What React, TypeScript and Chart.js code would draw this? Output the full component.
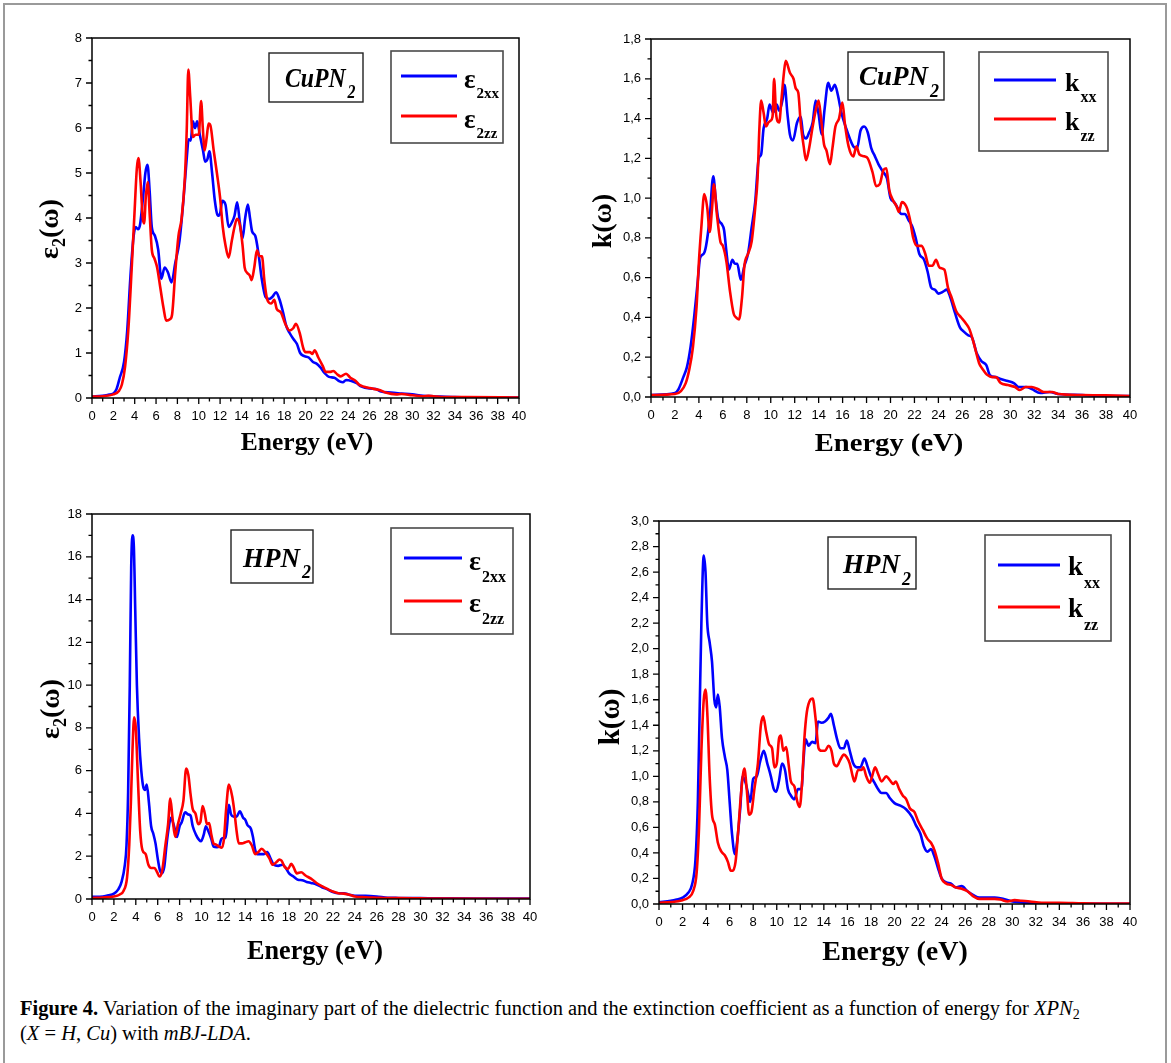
import React, { useEffect, useRef } from 'react';
import { Chart, registerables } from 'chart.js';

Chart.register(...registerables);

type Pt = [number, number];

// ---------------- axes ----------------
const energyRange: [number, number] = [0, 40];
const energyMajorStep = 2;
const energyMinorStep = 1;

const eps2CuAxis = { max: 8, major: 1, minor: 0.5, decimals: 0 };
const kCuAxis = { max: 1.8, major: 0.2, minor: 0.1, decimals: 1 };
const eps2HAxis = { max: 18, major: 2, minor: 1, decimals: 0 };
const kHAxis = { max: 3.0, major: 0.2, minor: 0.1, decimals: 1 };

// ---------------- data: [energy (eV), value] ----------------
const cuEps2xx: Pt[] = [
  [0, 0.03], [1, 0.05], [1.5, 0.07], [2, 0.1], [2.3, 0.2], [2.6, 0.45], [3.0, 0.8], [3.3, 1.5], [3.6, 2.7],
  [3.9, 3.6], [4.1, 3.8], [4.3, 3.75], [4.5, 3.85], [4.8, 4.5], [5.0, 5.0], [5.2, 5.18], [5.4, 4.6], [5.6, 3.8],
  [5.9, 3.6], [6.2, 3.3], [6.5, 2.65], [6.8, 2.9], [7.1, 2.8], [7.45, 2.57], [7.8, 3.0], [8.2, 3.5], [8.6, 4.5],
  [8.9, 5.4], [9.05, 5.75], [9.25, 5.72], [9.45, 6.15], [9.65, 6.0], [9.85, 6.15], [10.1, 5.85], [10.4, 5.5],
  [10.6, 5.25], [10.8, 5.3], [11.0, 5.48], [11.25, 5.0], [11.5, 4.4], [11.8, 4.05], [12.0, 4.1], [12.2, 4.38],
  [12.5, 4.3], [12.8, 3.8], [13.1, 3.9], [13.35, 4.05], [13.6, 4.35], [13.85, 3.9], [14.1, 3.55], [14.35, 4.0],
  [14.6, 4.3], [14.8, 4.0], [15.0, 3.7], [15.3, 3.6], [15.6, 3.2], [15.9, 2.65], [16.25, 2.25], [16.6, 2.2],
  [16.9, 2.25], [17.25, 2.35], [17.55, 2.2], [17.85, 1.95], [18.2, 1.6], [18.5, 1.45], [18.9, 1.3], [19.2, 1.2],
  [19.5, 1.0], [19.9, 0.93], [20.3, 0.9], [20.7, 0.8], [21.0, 0.77], [21.4, 0.68], [21.8, 0.55], [22.2, 0.47],
  [22.7, 0.45], [23.2, 0.37], [23.5, 0.35], [23.8, 0.4], [24.3, 0.38], [24.8, 0.33], [25.2, 0.26], [26, 0.21],
  [26.6, 0.2], [27, 0.15], [28, 0.12], [29, 0.1], [30, 0.08], [31, 0.05], [32, 0.04], [34, 0.02], [36, 0.01], [40, 0.01],
];
const cuEps2zz: Pt[] = [
  [0, 0.03], [1, 0.04], [2, 0.08], [2.5, 0.15], [2.8, 0.3], [3.1, 0.7], [3.4, 1.5], [3.7, 2.8], [4.0, 4.2],
  [4.2, 5.1], [4.35, 5.33], [4.55, 4.8], [4.75, 4.0], [4.88, 3.88], [5.05, 4.5], [5.22, 4.8], [5.4, 4.1],
  [5.6, 3.3], [5.85, 3.1], [6.1, 2.9], [6.4, 2.45], [6.7, 2.0], [6.95, 1.72], [7.3, 1.75], [7.5, 1.85],
  [7.8, 2.8], [8.1, 3.6], [8.4, 4.0], [8.7, 4.9], [8.88, 6.0], [9.02, 7.3], [9.2, 6.7], [9.45, 5.8], [9.7, 5.85],
  [10.0, 5.85], [10.22, 6.6], [10.38, 6.0], [10.55, 5.5], [10.75, 5.8], [10.92, 6.1], [11.1, 6.05], [11.4, 5.5],
  [11.7, 5.0], [12.0, 4.45], [12.25, 3.8], [12.5, 3.4], [12.8, 3.12], [13.1, 3.5], [13.35, 3.8], [13.58, 3.98],
  [13.85, 3.85], [14.1, 3.4], [14.3, 2.9], [14.55, 2.78], [14.78, 2.72], [14.95, 2.62], [15.2, 2.9], [15.45, 3.28],
  [15.7, 3.15], [15.92, 3.15], [16.15, 2.6], [16.4, 2.2], [16.8, 2.1], [17.08, 2.18], [17.3, 1.98], [17.7, 1.9],
  [18.1, 1.65], [18.5, 1.5], [18.85, 1.55], [19.1, 1.65], [19.45, 1.45], [19.8, 1.1], [20.0, 1.02], [20.4, 1.02],
  [20.65, 0.98], [20.85, 1.06], [21.2, 0.9], [21.6, 0.72], [21.9, 0.58], [22.3, 0.58], [22.6, 0.6], [23.0, 0.52],
  [23.3, 0.48], [23.8, 0.54], [24.2, 0.45], [24.7, 0.38], [25.0, 0.3], [25.5, 0.25], [26.0, 0.22], [27, 0.17],
  [27.5, 0.12], [28.5, 0.08], [29, 0.09], [30, 0.06], [31, 0.04], [31.5, 0.05], [32, 0.04], [33, 0.02], [35, 0.02], [40, 0.01],
];
const cuKxx: Pt[] = [
  [0, 0.01], [2, 0.02], [2.3, 0.04], [2.7, 0.1], [3.0, 0.15], [3.3, 0.25], [3.6, 0.4], [3.9, 0.58], [4.1, 0.7],
  [4.4, 0.72], [4.6, 0.76], [4.9, 0.9], [5.2, 1.11], [5.4, 1.0], [5.6, 0.9], [5.9, 0.87], [6.1, 0.84], [6.3, 0.73],
  [6.5, 0.64], [6.8, 0.69], [7.0, 0.67], [7.2, 0.67], [7.5, 0.59], [7.8, 0.66], [8.1, 0.72], [8.4, 0.85], [8.7, 0.98],
  [9.0, 1.2], [9.2, 1.22], [9.4, 1.35], [9.7, 1.4], [9.9, 1.47], [10.2, 1.43], [10.5, 1.47], [10.7, 1.44], [11.0, 1.5],
  [11.15, 1.57], [11.4, 1.42], [11.6, 1.32], [11.85, 1.29], [12.2, 1.38], [12.5, 1.41], [12.7, 1.32], [12.95, 1.3],
  [13.2, 1.33], [13.5, 1.38], [13.75, 1.49], [14.0, 1.42], [14.25, 1.32], [14.5, 1.45], [14.8, 1.58], [15.05, 1.54],
  [15.35, 1.57], [15.6, 1.52], [15.9, 1.43], [16.3, 1.35], [16.6, 1.3], [16.9, 1.26], [17.2, 1.25], [17.5, 1.34],
  [17.8, 1.36], [18.1, 1.33], [18.4, 1.25], [18.7, 1.21], [19.0, 1.17], [19.4, 1.13], [19.7, 1.1], [20.0, 1.0],
  [20.3, 0.98], [20.6, 0.95], [20.9, 0.92], [21.2, 0.92], [21.5, 0.89], [21.8, 0.86], [22.1, 0.8], [22.4, 0.72],
  [22.8, 0.69], [23.1, 0.63], [23.4, 0.55], [23.7, 0.54], [24.0, 0.52], [24.4, 0.53], [24.7, 0.54], [25.0, 0.5],
  [25.4, 0.42], [25.8, 0.35], [26.1, 0.33], [26.5, 0.31], [26.8, 0.3], [27.2, 0.22], [27.6, 0.18], [28, 0.16],
  [28.3, 0.11], [28.8, 0.1], [29.2, 0.09], [29.8, 0.08], [30.3, 0.07], [30.7, 0.05], [31.3, 0.05], [31.8, 0.04],
  [32.5, 0.02], [33.3, 0.025], [34, 0.015], [36, 0.01], [38, 0.005], [40, 0.005],
];
const cuKzz: Pt[] = [
  [0, 0.01], [2, 0.015], [2.5, 0.03], [2.9, 0.07], [3.2, 0.14], [3.5, 0.25], [3.8, 0.45], [4.0, 0.68], [4.2, 0.85],
  [4.45, 1.02], [4.7, 0.95], [4.9, 0.83], [5.1, 0.95], [5.25, 1.07], [5.5, 0.92], [5.8, 0.78], [6.0, 0.76],
  [6.3, 0.68], [6.6, 0.53], [6.9, 0.42], [7.1, 0.4], [7.35, 0.39], [7.6, 0.5], [7.8, 0.66], [8.1, 0.72], [8.4, 0.78],
  [8.7, 0.95], [8.9, 1.1], [9.05, 1.35], [9.2, 1.49], [9.4, 1.43], [9.6, 1.36], [9.8, 1.38], [10.0, 1.39],
  [10.15, 1.41], [10.28, 1.6], [10.45, 1.42], [10.7, 1.38], [10.9, 1.5], [11.1, 1.63], [11.25, 1.69], [11.6, 1.63],
  [11.9, 1.6], [12.1, 1.55], [12.3, 1.53], [12.5, 1.38], [12.75, 1.26], [12.95, 1.19], [13.2, 1.25], [13.5, 1.36],
  [13.75, 1.44], [14.0, 1.49], [14.2, 1.4], [14.45, 1.27], [14.65, 1.24], [14.95, 1.17], [15.15, 1.25], [15.4, 1.36],
  [15.7, 1.4], [15.98, 1.48], [16.2, 1.37], [16.5, 1.26], [16.9, 1.21], [17.15, 1.26], [17.4, 1.22], [17.8, 1.21],
  [18.1, 1.2], [18.5, 1.13], [18.8, 1.06], [19.1, 1.07], [19.4, 1.14], [19.65, 1.15], [19.9, 1.04], [20.2, 0.99],
  [20.5, 0.96], [20.7, 0.93], [20.95, 0.98], [21.3, 0.96], [21.6, 0.9], [21.9, 0.8], [22.2, 0.76], [22.6, 0.76],
  [22.9, 0.72], [23.2, 0.66], [23.5, 0.66], [23.8, 0.69], [24.1, 0.65], [24.5, 0.64], [24.8, 0.55], [25.1, 0.5],
  [25.5, 0.43], [25.9, 0.4], [26.3, 0.37], [26.6, 0.34], [27.0, 0.26], [27.4, 0.17], [27.7, 0.14], [28.1, 0.11],
  [28.5, 0.1], [28.8, 0.1], [29.2, 0.07], [29.8, 0.06], [30.4, 0.05], [30.8, 0.035], [31.3, 0.05], [31.8, 0.05],
  [32.3, 0.04], [32.8, 0.025], [33.5, 0.025], [34, 0.015], [36, 0.01], [38, 0.008], [40, 0.005],
];
const hEps2xx: Pt[] = [
  [0, 0.1], [1, 0.12], [1.5, 0.17], [2.0, 0.25], [2.4, 0.45], [2.7, 0.8], [3.0, 1.6], [3.15, 2.5], [3.3, 5.0],
  [3.45, 10], [3.58, 15.5], [3.7, 17.0], [3.82, 16.5], [3.95, 13.5], [4.1, 10], [4.3, 7.5], [4.5, 6.0], [4.7, 5.2],
  [4.85, 5.1], [5.0, 5.35], [5.2, 4.5], [5.4, 3.4], [5.6, 3.05], [5.8, 2.6], [6.0, 1.9], [6.2, 1.35], [6.38, 1.2],
  [6.6, 1.5], [6.8, 2.5], [7.0, 3.3], [7.2, 3.8], [7.5, 3.4], [7.75, 2.9], [8.0, 3.4], [8.2, 3.6], [8.5, 4.05],
  [8.8, 3.95], [9.0, 3.9], [9.2, 3.4], [9.5, 3.0], [9.8, 2.75], [9.95, 2.7], [10.2, 3.0], [10.4, 3.4], [10.6, 3.2],
  [10.9, 2.8], [11.1, 2.45], [11.4, 2.42], [11.6, 2.45], [11.8, 2.8], [12.0, 2.85], [12.2, 2.85], [12.35, 3.5],
  [12.5, 4.4], [12.7, 3.95], [12.95, 3.85], [13.2, 3.85], [13.5, 4.1], [13.8, 3.8], [14.0, 3.7], [14.2, 3.45],
  [14.5, 3.3], [14.7, 2.9], [14.9, 2.3], [15.1, 2.1], [15.4, 2.1], [15.7, 2.1], [16.0, 2.2], [16.3, 1.9], [16.6, 1.6],
  [17.0, 1.55], [17.4, 1.6], [17.7, 1.45], [18.0, 1.2], [18.4, 1.05], [18.8, 0.9], [19.2, 0.88], [19.6, 0.8],
  [20.0, 0.75], [20.5, 0.68], [21, 0.55], [21.5, 0.45], [22, 0.33], [22.5, 0.27], [23, 0.27], [23.5, 0.2], [24, 0.15],
  [25, 0.15], [26, 0.12], [27, 0.06], [28, 0.05], [30, 0.04], [32, 0.03], [35, 0.02], [40, 0.02],
];
const hEps2zz: Pt[] = [
  [0, 0.05], [1, 0.07], [2, 0.12], [2.5, 0.2], [2.9, 0.4], [3.2, 1.0], [3.4, 2.5], [3.55, 4.5], [3.7, 7.0],
  [3.85, 8.5], [4.0, 8.0], [4.2, 5.5], [4.4, 3.2], [4.6, 2.3], [4.9, 2.1], [5.15, 1.6], [5.4, 1.45], [5.7, 1.45],
  [5.95, 1.25], [6.15, 1.05], [6.4, 1.3], [6.7, 2.5], [6.95, 3.5], [7.15, 4.7], [7.35, 3.8], [7.6, 2.9], [7.85, 3.5],
  [8.1, 4.0], [8.35, 4.6], [8.6, 6.1], [8.8, 5.8], [9.0, 4.9], [9.2, 4.2], [9.45, 4.0], [9.7, 3.5], [9.9, 3.6],
  [10.1, 4.35], [10.3, 4.0], [10.5, 3.5], [10.7, 3.55], [10.9, 3.0], [11.1, 2.6], [11.3, 2.55], [11.6, 2.45],
  [11.85, 2.4], [12.05, 2.8], [12.25, 4.2], [12.5, 5.35], [12.8, 4.8], [13.0, 4.1], [13.2, 3.2], [13.4, 2.6],
  [13.7, 2.6], [14.0, 2.65], [14.3, 2.7], [14.6, 2.5], [14.9, 2.1], [15.2, 2.2], [15.5, 2.35], [15.8, 2.2],
  [16.2, 1.9], [16.5, 1.6], [16.9, 1.75], [17.1, 1.85], [17.3, 1.8], [17.6, 1.5], [17.9, 1.4], [18.2, 1.65],
  [18.4, 1.5], [18.7, 1.2], [19.1, 1.25], [19.5, 1.1], [20.0, 0.95], [20.5, 0.75], [21, 0.6], [21.5, 0.47],
  [22, 0.35], [22.5, 0.27], [23, 0.25], [23.5, 0.2], [24, 0.12], [25, 0.08], [26, 0.06], [27, 0.04], [28, 0.04],
  [30, 0.03], [32, 0.02], [40, 0.01],
];
const hKxx: Pt[] = [
  [0, 0.015], [1, 0.025], [1.5, 0.035], [2, 0.05], [2.5, 0.09], [2.8, 0.15], [3.1, 0.35], [3.3, 0.8], [3.45, 1.5],
  [3.6, 2.2], [3.8, 2.73], [3.95, 2.6], [4.1, 2.2], [4.3, 2.05], [4.5, 1.9], [4.7, 1.6], [4.85, 1.54], [5.0, 1.64],
  [5.15, 1.55], [5.35, 1.3], [5.6, 1.15], [5.8, 1.05], [6.0, 0.8], [6.2, 0.55], [6.45, 0.39], [6.65, 0.5], [6.9, 0.75],
  [7.1, 1.0], [7.35, 0.95], [7.6, 0.85], [7.75, 0.8], [8.0, 0.98], [8.3, 1.0], [8.6, 1.12], [8.9, 1.2], [9.2, 1.1],
  [9.5, 1.0], [9.75, 0.9], [9.95, 0.88], [10.2, 0.97], [10.45, 1.1], [10.7, 1.05], [10.95, 0.9], [11.2, 0.85],
  [11.5, 0.82], [11.8, 0.9], [12.1, 0.9], [12.25, 1.1], [12.45, 1.29], [12.7, 1.24], [13.0, 1.27], [13.3, 1.26],
  [13.5, 1.43], [13.8, 1.42], [14.1, 1.43], [14.4, 1.46], [14.6, 1.49], [14.85, 1.4], [15.1, 1.3], [15.4, 1.22],
  [15.7, 1.22], [15.95, 1.28], [16.2, 1.2], [16.5, 1.1], [16.8, 1.07], [17.1, 1.07], [17.45, 1.14], [17.7, 1.08],
  [18.0, 1.0], [18.3, 0.95], [18.6, 0.9], [18.9, 0.87], [19.3, 0.87], [19.6, 0.83], [20.0, 0.79], [20.5, 0.77],
  [21.0, 0.74], [21.5, 0.68], [21.8, 0.62], [22.2, 0.55], [22.5, 0.45], [22.8, 0.41], [23.1, 0.43], [23.4, 0.37],
  [23.7, 0.28], [24.0, 0.2], [24.4, 0.17], [24.8, 0.16], [25.2, 0.13], [25.7, 0.14], [26.2, 0.1], [26.7, 0.07],
  [27.2, 0.05], [28, 0.05], [28.5, 0.05], [29, 0.045], [30, 0.02], [31, 0.01], [32, 0.005], [40, 0.002],
];
const hKzz: Pt[] = [
  [0, 0.01], [1, 0.015], [2, 0.03], [2.5, 0.05], [2.9, 0.1], [3.2, 0.25], [3.4, 0.6], [3.6, 1.2], [3.8, 1.6],
  [3.95, 1.68], [4.1, 1.5], [4.3, 1.0], [4.5, 0.7], [4.75, 0.62], [5.0, 0.48], [5.3, 0.41], [5.6, 0.38], [5.85, 0.33],
  [6.1, 0.26], [6.25, 0.26], [6.5, 0.33], [6.75, 0.6], [7.0, 0.9], [7.25, 1.06], [7.45, 0.9], [7.65, 0.7],
  [7.85, 0.72], [8.1, 0.9], [8.4, 1.1], [8.65, 1.4], [8.85, 1.47], [9.1, 1.35], [9.35, 1.25], [9.6, 1.22],
  [9.8, 1.07], [10.0, 1.1], [10.2, 1.3], [10.35, 1.32], [10.55, 1.2], [10.8, 1.23], [11.0, 1.1], [11.2, 0.96],
  [11.5, 0.92], [11.75, 0.8], [11.95, 0.76], [12.15, 0.95], [12.35, 1.3], [12.55, 1.5], [12.85, 1.6], [13.05, 1.61],
  [13.3, 1.45], [13.55, 1.22], [13.8, 1.2], [14.1, 1.2], [14.4, 1.24], [14.65, 1.2], [14.85, 1.1], [15.1, 1.08],
  [15.4, 1.13], [15.7, 1.17], [15.95, 1.15], [16.2, 1.1], [16.45, 1.0], [16.6, 0.96], [16.9, 1.05], [17.2, 1.05],
  [17.35, 1.07], [17.6, 1.0], [17.9, 0.95], [18.1, 1.0], [18.35, 1.07], [18.6, 1.02], [18.9, 0.96], [19.3, 1.0],
  [19.6, 0.97], [19.9, 0.94], [20.1, 0.96], [20.4, 0.9], [20.7, 0.85], [21.0, 0.82], [21.3, 0.75], [21.7, 0.72],
  [22.0, 0.65], [22.4, 0.58], [22.8, 0.51], [23.1, 0.48], [23.4, 0.42], [23.7, 0.32], [24.0, 0.2], [24.4, 0.16],
  [24.8, 0.15], [25.2, 0.13], [25.7, 0.12], [26.2, 0.1], [26.7, 0.06], [27.2, 0.04], [28, 0.04], [28.5, 0.04],
  [29, 0.035], [29.6, 0.02], [30.2, 0.03], [30.8, 0.025], [31.5, 0.02], [32.5, 0.01], [34, 0.01], [36, 0.005], [40, 0.003],
];

// ---------------- styling / layout ----------------
const SERIF = '"Liberation Serif", "Times New Roman", serif';
const SANS = '"Liberation Sans", Arial, sans-serif';
const BLUE = '#0000ff';
const RED = '#ff0000';
const Y_AXIS_W = 45;
const X_AXIS_H = 30;

type Part = { t: string; font: string; dy?: number; dx?: number };

function drawRich(ctx: CanvasRenderingContext2D, parts: Part[], x: number, y: number, align: 'left' | 'center', sx = 1) {
  ctx.save();
  ctx.translate(x, y);
  ctx.scale(sx, 1);
  ctx.textAlign = 'left';
  ctx.textBaseline = 'alphabetic';
  let total = 0;
  for (const p of parts) {
    ctx.font = p.font;
    total += ctx.measureText(p.t).width + (p.dx || 0);
  }
  let cx = align === 'center' ? -total / 2 : 0;
  for (const p of parts) {
    ctx.font = p.font;
    cx += p.dx || 0;
    ctx.fillText(p.t, cx, p.dy || 0);
    cx += ctx.measureText(p.t).width;
  }
  ctx.restore();
}

interface PanelCfg {
  key: string;
  canvas: { x: number; y: number; w: number; h: number };
  plot: { l: number; t: number; r: number; b: number };
  axis: { max: number; major: number; minor: number; decimals: number };
  blue: Pt[];
  red: Pt[];
  quantity: 'eps' | 'k';
  compound: string;
  xTitle: { cx: number; base: number; size: number; sx: number };
  yTitle: { base: number; cy: number; size: number };
  box: { l: number; t: number; r: number; b: number; tx: number; base: number; subDy: number; size: number; sx: number };
  legend: { l: number; t: number; r: number; b: number; x1: number; x2: number; y1: number; y2: number; tx: number; base1: number; base2: number; size: number; subSize: number; subDy: number };
}

const panels: PanelCfg[] = [
  {
    key: 'cuEps', canvas: { x: 0, y: 0, w: 585, h: 480 }, plot: { l: 92, t: 38, r: 519, b: 398 },
    axis: eps2CuAxis, blue: cuEps2xx, red: cuEps2zz, quantity: 'eps', compound: 'CuPN',
    xTitle: { cx: 307, base: 450, size: 26, sx: 0.98 }, yTitle: { base: 58, cy: 229, size: 28 },
    box: { l: 269, t: 53, r: 363, b: 102, tx: 285, base: 87, subDy: 11, size: 27, sx: 0.88 },
    legend: { l: 391, t: 51, r: 503, b: 143, x1: 401, x2: 457, y1: 76, y2: 116, tx: 464, base1: 88, base2: 128, size: 27, subSize: 15, subDy: 9.5 },
  },
  {
    key: 'cuK', canvas: { x: 585, y: 0, w: 586, h: 480 }, plot: { l: 651, t: 39, r: 1130, b: 397 },
    axis: kCuAxis, blue: cuKxx, red: cuKzz, quantity: 'k', compound: 'CuPN',
    xTitle: { cx: 889, base: 451, size: 26, sx: 1.1 }, yTitle: { base: 611, cy: 221, size: 28 },
    box: { l: 848, t: 52, r: 944, b: 100, tx: 859, base: 85, subDy: 12, size: 27, sx: 1 },
    legend: { l: 979, t: 52, r: 1108, b: 151, x1: 994, x2: 1056, y1: 80, y2: 119, tx: 1065, base1: 91, base2: 130, size: 26, subSize: 16, subDy: 10.5 },
  },
  {
    key: 'hEps', canvas: { x: 0, y: 480, w: 585, h: 500 }, plot: { l: 92, t: 514, r: 530, b: 899 },
    axis: eps2HAxis, blue: hEps2xx, red: hEps2zz, quantity: 'eps', compound: 'HPN',
    xTitle: { cx: 315, base: 959, size: 27, sx: 0.97 }, yTitle: { base: 59, cy: 709, size: 28 },
    box: { l: 231, t: 530, r: 313, b: 583, tx: 243, base: 567, subDy: 11, size: 27, sx: 1 },
    legend: { l: 391, t: 528, r: 513, b: 634, x1: 404, x2: 462, y1: 558, y2: 601, tx: 469, base1: 570, base2: 612, size: 28, subSize: 16, subDy: 11.5 },
  },
  {
    key: 'hK', canvas: { x: 585, y: 480, w: 586, h: 500 }, plot: { l: 659, t: 521, r: 1130, b: 904 },
    axis: kHAxis, blue: hKxx, red: hKzz, quantity: 'k', compound: 'HPN',
    xTitle: { cx: 895, base: 960, size: 28, sx: 1.0 }, yTitle: { base: 619, cy: 717, size: 29 },
    box: { l: 828, t: 537, r: 916, b: 589, tx: 843, base: 573, subDy: 12, size: 27, sx: 1 },
    legend: { l: 985, t: 535, r: 1111, b: 641, x1: 998, x2: 1060, y1: 565, y2: 607, tx: 1068, base1: 575, base2: 617, size: 27, subSize: 16, subDy: 13 },
  },
];

function makeDecor(cfg: PanelCfg) {
  return {
    id: 'decor_' + cfg.key,
    afterDraw(chart: any) {
      const ctx: CanvasRenderingContext2D = chart.ctx;
      const a = chart.chartArea;
      const xs = chart.scales.x;
      const ys = chart.scales.y;
      const ox = cfg.canvas.x;
      const oy = cfg.canvas.y;
      ctx.save();
      // plot frame
      ctx.strokeStyle = '#000';
      ctx.lineWidth = 1.5;
      ctx.strokeRect(a.left, a.top, a.right - a.left, a.bottom - a.top);
      // ticks
      ctx.beginPath();
      const nx = Math.round((energyRange[1] - energyRange[0]) / energyMinorStep);
      const xr = Math.round(energyMajorStep / energyMinorStep);
      for (let i = 0; i <= nx; i++) {
        const px = xs.getPixelForValue(energyRange[0] + i * energyMinorStep);
        ctx.moveTo(px, a.bottom);
        ctx.lineTo(px, a.bottom + (i % xr === 0 ? 6 : 3.5));
      }
      const ny = Math.round(cfg.axis.max / cfg.axis.minor);
      const yr = Math.round(cfg.axis.major / cfg.axis.minor);
      for (let i = 0; i <= ny; i++) {
        const py = ys.getPixelForValue(i * cfg.axis.minor);
        ctx.moveTo(a.left, py);
        ctx.lineTo(a.left - (i % yr === 0 ? 6 : 3.5), py);
      }
      ctx.lineWidth = 1.3;
      ctx.stroke();

      ctx.fillStyle = '#000';
      // x title
      drawRich(ctx, [{ t: 'Energy (eV)', font: `bold ${cfg.xTitle.size}px ${SERIF}` }], cfg.xTitle.cx - ox, cfg.xTitle.base - oy, 'center', cfg.xTitle.sx);
      // y title (rotated)
      ctx.save();
      ctx.translate(cfg.yTitle.base - ox, cfg.yTitle.cy - oy);
      ctx.rotate(-Math.PI / 2);
      const ys1 = cfg.yTitle.size;
      const yParts: Part[] = cfg.quantity === 'eps'
        ? [
            { t: 'ε', font: `bold ${ys1}px ${SERIF}` },
            { t: '2', font: `bold ${Math.round(ys1 * 0.64)}px ${SERIF}`, dy: 7 },
            { t: '(ω)', font: `bold ${ys1}px ${SERIF}` },
          ]
        : [{ t: 'k(ω)', font: `bold ${ys1}px ${SERIF}` }];
      drawRich(ctx, yParts, 0, 0, 'center');
      ctx.restore();

      // compound label box
      const bx = cfg.box;
      ctx.strokeStyle = '#222';
      ctx.lineWidth = 1.4;
      ctx.strokeRect(bx.l - ox, bx.t - oy, bx.r - bx.l, bx.b - bx.t);
      drawRich(ctx, [
        { t: cfg.compound, font: `italic bold ${bx.size}px ${SERIF}` },
        { t: '2', font: `italic bold ${Math.round(bx.size * 0.66)}px ${SERIF}`, dy: bx.subDy, dx: 2 },
      ], bx.tx - ox, bx.base - oy, 'left', bx.sx);

      // legend box
      const lg = cfg.legend;
      ctx.strokeStyle = '#4a4a4a';
      ctx.lineWidth = 1.6;
      ctx.strokeRect(lg.l - ox, lg.t - oy, lg.r - lg.l, lg.b - lg.t);
      ctx.lineWidth = 3;
      ctx.strokeStyle = BLUE;
      ctx.beginPath();
      ctx.moveTo(lg.x1 - ox, lg.y1 - oy);
      ctx.lineTo(lg.x2 - ox, lg.y1 - oy);
      ctx.stroke();
      ctx.strokeStyle = RED;
      ctx.beginPath();
      ctx.moveTo(lg.x1 - ox, lg.y2 - oy);
      ctx.lineTo(lg.x2 - ox, lg.y2 - oy);
      ctx.stroke();
      const sym = cfg.quantity === 'eps' ? 'ε' : 'k';
      const pre = cfg.quantity === 'eps' ? '2' : '';
      const entries = [
        { sub: pre + 'xx', base: lg.base1 },
        { sub: pre + 'zz', base: lg.base2 },
      ];
      for (const e of entries) {
        drawRich(ctx, [
          { t: sym, font: `bold ${lg.size}px ${SERIF}` },
          { t: e.sub, font: `bold ${lg.subSize}px ${SERIF}`, dy: lg.subDy, dx: 1 },
        ], lg.tx - ox, e.base - oy, 'left');
      }
      ctx.restore();
    },
  };
}

function fmtTick(v: number, decimals: number) {
  return decimals === 0 ? String(Math.round(v)) : v.toFixed(decimals).replace('.', ',');
}

function ChartPanel({ cfg }: { cfg: PanelCfg }) {
  const ref = useRef<HTMLCanvasElement | null>(null);
  useEffect(() => {
    const canvas = ref.current;
    if (!canvas) return;
    const padding = {
      left: cfg.plot.l - cfg.canvas.x - Y_AXIS_W,
      top: cfg.plot.t - cfg.canvas.y,
      right: cfg.canvas.x + cfg.canvas.w - cfg.plot.r,
      bottom: cfg.canvas.y + cfg.canvas.h - cfg.plot.b - X_AXIS_H,
    };
    const tickFont = { family: SANS, size: 13 };
    const chart = new Chart(canvas, {
      type: 'line',
      data: {
        datasets: [
          {
            label: 'zz',
            data: cfg.red.map(([x, y]) => ({ x, y })),
            borderColor: RED,
            borderWidth: 2.6,
            pointRadius: 0,
            fill: false,
            cubicInterpolationMode: 'monotone',
            order: 1,
          },
          {
            label: 'xx',
            data: cfg.blue.map(([x, y]) => ({ x, y })),
            borderColor: BLUE,
            borderWidth: 2.6,
            pointRadius: 0,
            fill: false,
            cubicInterpolationMode: 'monotone',
            order: 2,
          },
        ],
      },
      options: {
        animation: false,
        responsive: false,
        devicePixelRatio: 1,
        events: [],
        layout: { padding },
        plugins: { legend: { display: false }, tooltip: { enabled: false } },
        scales: {
          x: {
            type: 'linear',
            min: energyRange[0],
            max: energyRange[1],
            afterFit: (s: any) => { s.height = X_AXIS_H; },
            grid: { display: false, drawTicks: false },
            border: { display: false },
            ticks: {
              stepSize: energyMajorStep,
              autoSkip: false,
              maxRotation: 0,
              minRotation: 0,
              padding: 11,
              color: '#000',
              font: tickFont,
              callback: (v: any) => String(Math.round(Number(v))),
            },
          },
          y: {
            type: 'linear',
            min: 0,
            max: cfg.axis.max,
            afterFit: (s: any) => { s.width = Y_AXIS_W; },
            grid: { display: false, drawTicks: false },
            border: { display: false },
            ticks: {
              stepSize: cfg.axis.major,
              autoSkip: false,
              padding: 10,
              color: '#000',
              font: tickFont,
              callback: (v: any) => fmtTick(Number(v), cfg.axis.decimals),
            },
          },
        },
      } as any,
      plugins: [makeDecor(cfg)],
    });
    return () => chart.destroy();
  }, [cfg]);
  return (
    <canvas
      ref={ref}
      width={cfg.canvas.w}
      height={cfg.canvas.h}
      style={{ position: 'absolute', left: cfg.canvas.x, top: cfg.canvas.y, width: cfg.canvas.w, height: cfg.canvas.h }}
    />
  );
}

export default function App() {
  useEffect(() => {
    document.body.style.margin = '0';
    document.body.style.overflow = 'hidden';
  }, []);
  return (
    <div style={{ position: 'relative', width: 1171, height: 1063, background: '#fff', overflow: 'hidden' }}>
      <div
        style={{
          position: 'absolute', left: 3, top: 3, width: 1164, height: 1080,
          border: '2px solid #9a9a9a', boxSizing: 'border-box',
        }}
      />
      {panels.map((p) => (
        <ChartPanel key={p.key} cfg={p} />
      ))}
      <div
        style={{
          position: 'absolute', left: 20, top: 997, fontFamily: SERIF, fontSize: 20.5, lineHeight: '23px',
          color: '#000', whiteSpace: 'nowrap',
        }}
      >
        <b>Figure 4.</b> Variation of the imaginary part of the dielectric function and the extinction coefficient as a function of energy for <i>XPN</i>
        <span style={{ fontSize: 14, position: 'relative', top: 4 }}>2</span>
        <br />
        (<i>X</i> = <i>H</i>, <i>Cu</i>) with <i>mBJ-LDA</i>.
      </div>
    </div>
  );
}
